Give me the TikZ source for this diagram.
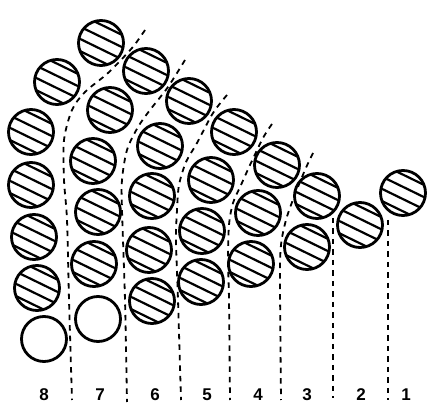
\documentclass[tikz,border=0pt]{standalone}
\usepackage{fontspec}
\setmainfont{Liberation Sans}
\begin{document}
\begin{tikzpicture}[x=1pt,y=-1pt,
  ball/.style={circle,draw,line width=2.8pt,minimum size=45pt,inner sep=0pt},
  hatchline/.style={line width=2.2pt},
  divider/.style={line width=1.8pt,dash pattern=on 5.5pt off 5pt},
  lab/.style={font=\bfseries\fontsize{17}{17}\selectfont,inner sep=0pt}]
\useasboundingbox (0,0) rectangle (431,411);
% column 8
\node[ball] (a1) at (101,43) {};
\node[ball] (a2) at (57,82) {};
\node[ball] (a3) at (31,132) {};
\node[ball] (a4) at (31,185) {};
\node[ball] (a5) at (34,237) {};
\node[ball] (a6) at (37,288) {};
\node[ball] (a7) at (44,339) {};
% column 7
\node[ball] (b1) at (146,71) {};
\node[ball] (b2) at (110,110) {};
\node[ball] (b3) at (93,161) {};
\node[ball] (b4) at (98,212) {};
\node[ball] (b5) at (94,264) {};
\node[ball] (b6) at (98,319) {};
% column 6
\node[ball] (c1) at (189,101) {};
\node[ball] (c2) at (160,146) {};
\node[ball] (c3) at (152,196) {};
\node[ball] (c4) at (149,250) {};
\node[ball] (c5) at (152,301) {};
% column 5
\node[ball] (d1) at (234,132) {};
\node[ball] (d2) at (211,180) {};
\node[ball] (d3) at (202,231) {};
\node[ball] (d4) at (201,282) {};
% column 4
\node[ball] (e1) at (277,165) {};
\node[ball] (e2) at (258,213) {};
\node[ball] (e3) at (251,264) {};
% column 3
\node[ball] (f1) at (317,196) {};
\node[ball] (f2) at (307,247) {};
% column 2
\node[ball] (g1) at (360,225) {};
% column 1
\node[ball] (h1) at (403,193) {};
% hatching
\foreach \nm in {a1,a2,a3,a4,a5,a6,b1,b2,b3,b4,b5,c1,c2,c3,c4,c5,d1,d2,d3,d4,e1,e2,e3,f1,f2,g1,h1}{
  \begin{scope}
    \clip (\nm.center) circle (22.5);
    \begin{scope}[shift={(\nm.center)},rotate=-26]
      \foreach \hh in {-16.5,-5.5,5.5,16.5}{\draw[hatchline] (-30,\hh) -- (30,\hh);}
    \end{scope}
  \end{scope}
}
% dividers
\draw[divider] plot[smooth] coordinates {(145,30) (132,48) (108,73) (85,92) (72,110) (64,140) (64,180) (67,220) (69,300) (72,400)};
\draw[divider] plot[smooth] coordinates {(185,60) (168,87) (150,110) (138,127) (127,150) (122,180) (122,210) (125,300) (127,402)};
\draw[divider] plot[smooth] coordinates {(227,95) (213,113) (197,143) (186,162) (179,185) (177,210) (176,240) (178,300) (181,400)};
\draw[divider] plot[smooth] coordinates {(272,124) (263,138) (250,165) (241,185) (233,203) (229,225) (228,260) (229,300) (230,400)};
\draw[divider] plot[smooth] coordinates {(313,153) (305,170) (294,197) (286,220) (281,245) (280,280) (281,400)};
\draw[divider] (333,218) -- (333,398);
\draw[divider] (388,220) -- (388,400);
% labels
\node[lab] (n8) at (44,395) {8};
\node[lab] (n7) at (100,395) {7};
\node[lab] (n6) at (155,395) {6};
\node[lab] (n5) at (207,395) {5};
\node[lab] (n4) at (258,395) {4};
\node[lab] (n3) at (307,395) {3};
\node[lab] (n2) at (361,395) {2};
\node[lab] (n1) at (406,395) {1};
\end{tikzpicture}
\end{document}
